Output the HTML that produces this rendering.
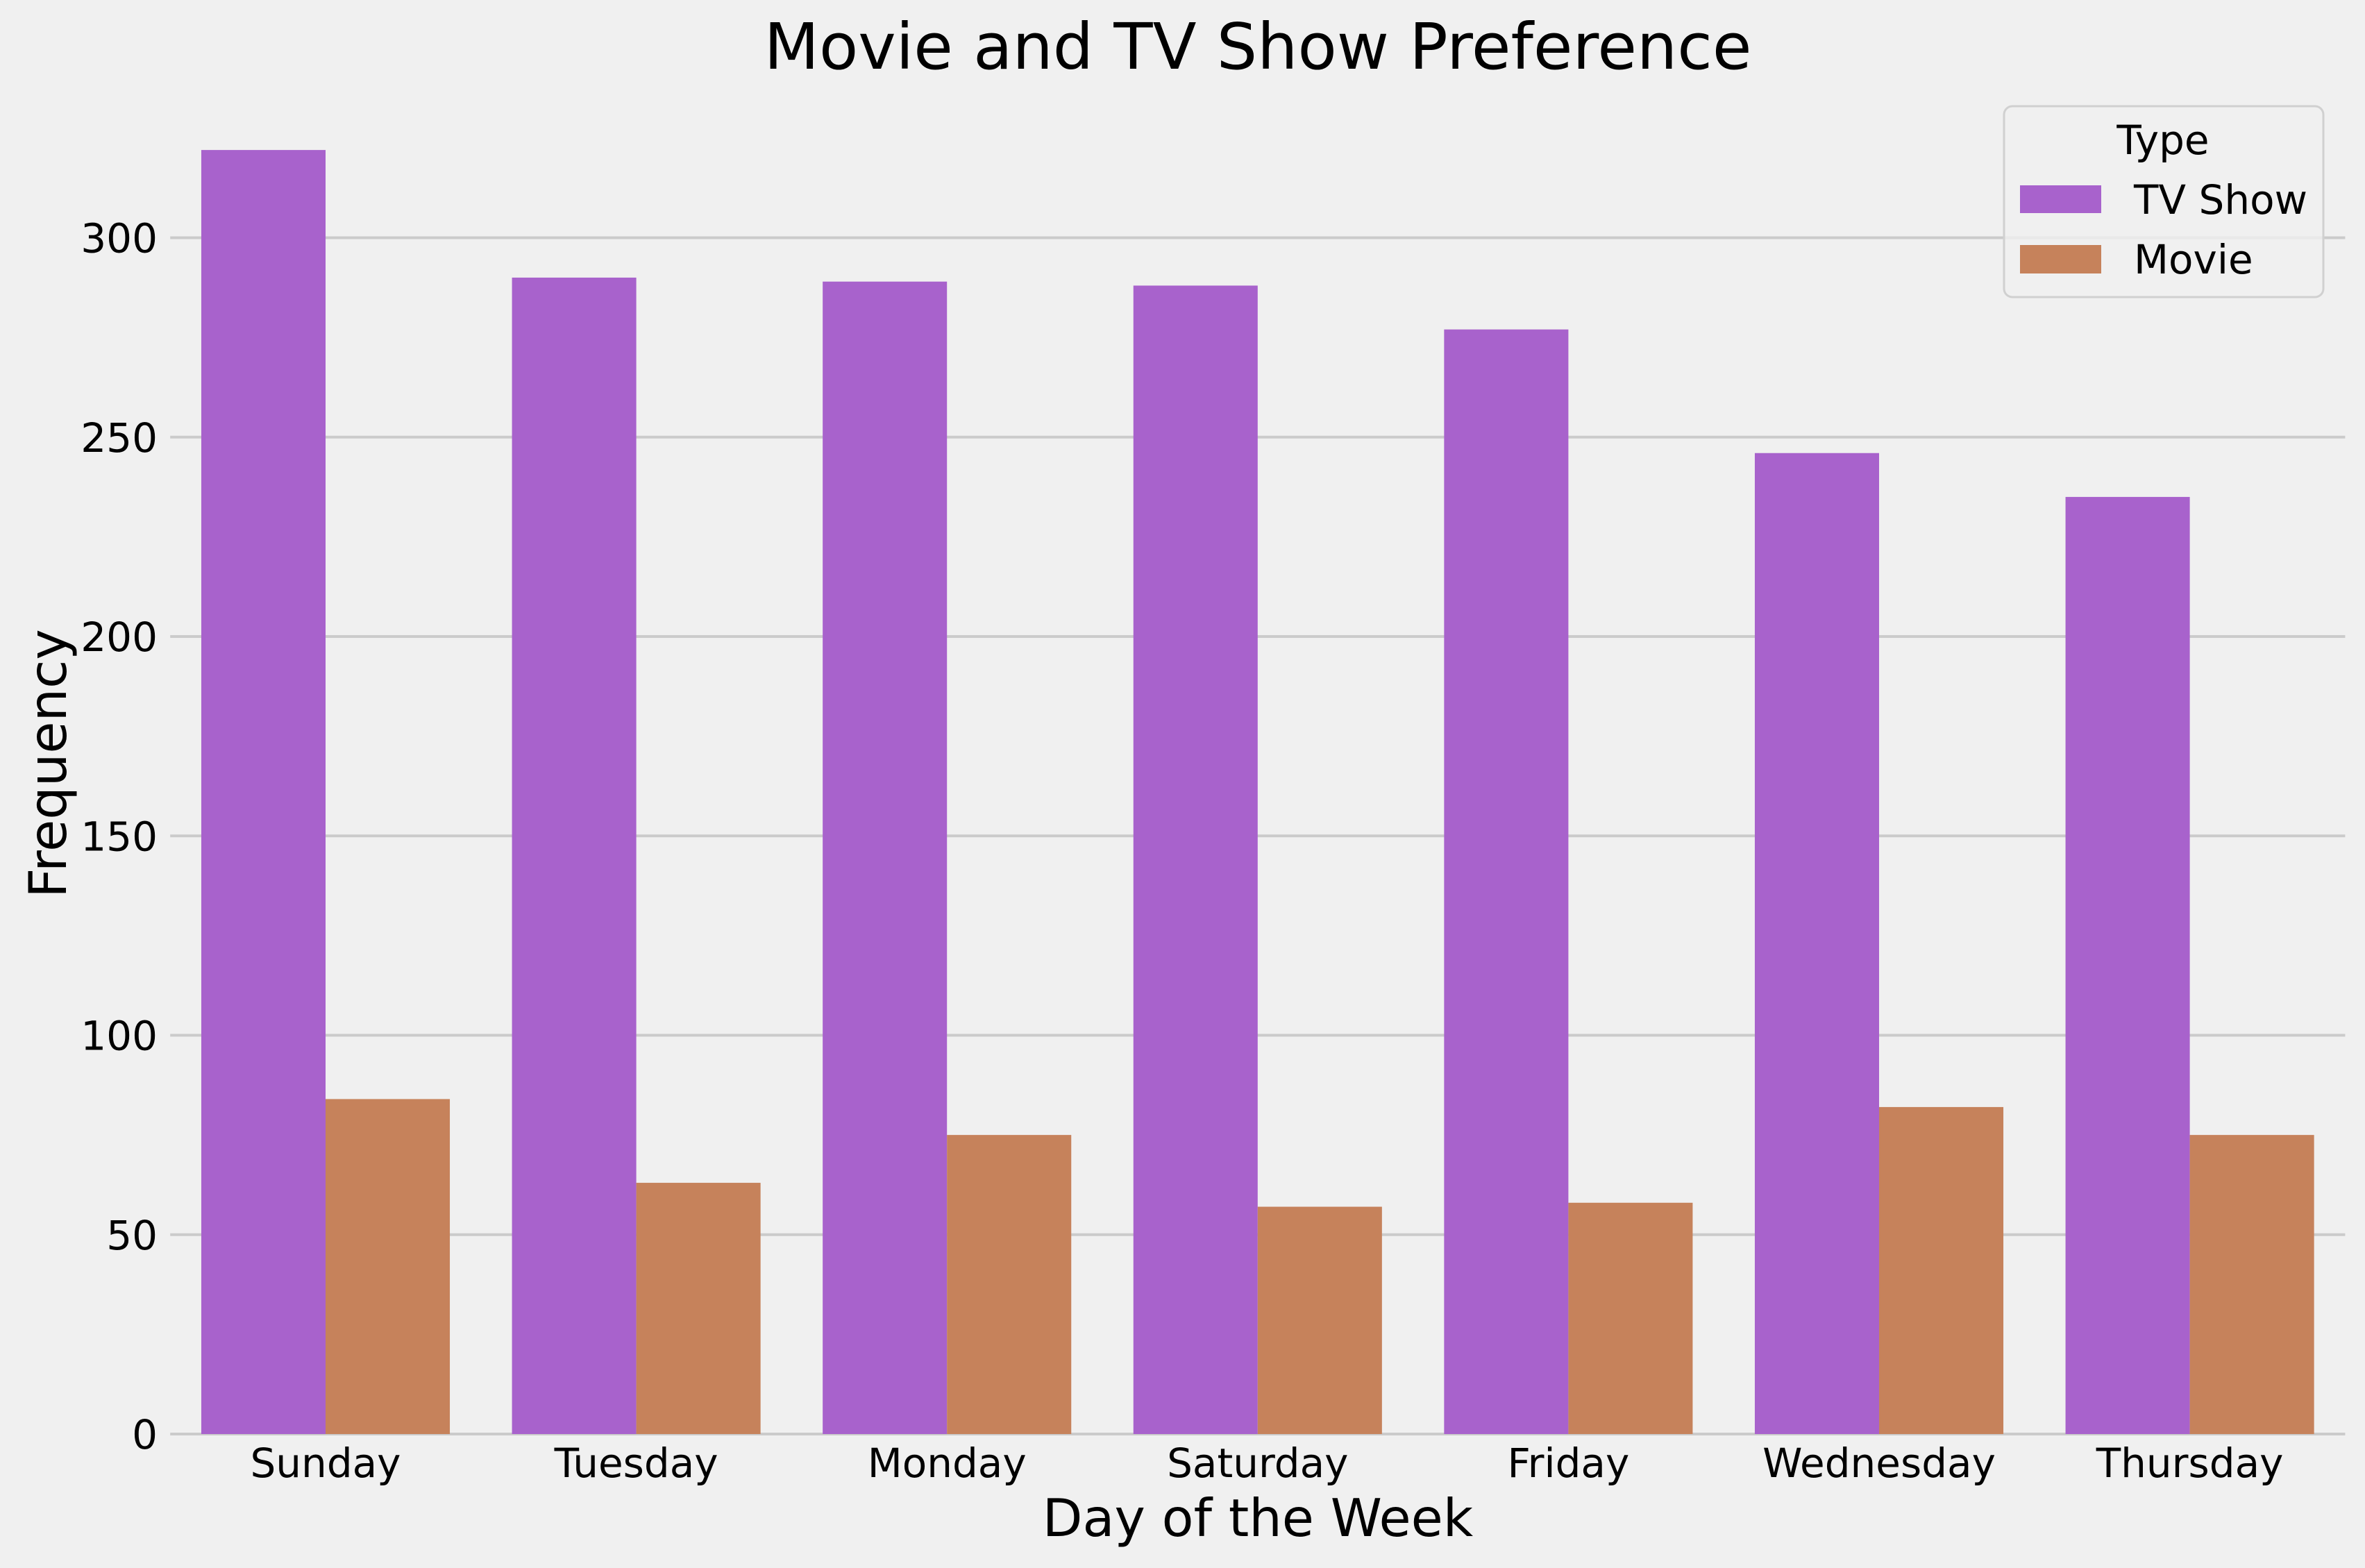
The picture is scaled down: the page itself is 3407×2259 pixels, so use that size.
<!DOCTYPE html>
<html><head><meta charset="utf-8"><style>
html,body{margin:0;padding:0;background:#f0f0f0;}
svg{display:block;font-family:"DejaVu Sans","Liberation Sans",sans-serif;}
</style></head><body>
<svg id="chart" width="3407" height="2259" viewBox="0 0 3407 2259">
<rect x="0" y="0" width="3407" height="2259" fill="#f0f0f0"/>
<g id="grid"></g>
<g id="bars"></g>
<g id="ticks"></g>
<text x="1812" y="99" font-size="92" text-anchor="middle" fill="#000">Movie and TV Show Preference</text>
<text x="1812" y="2213" font-size="75" text-anchor="middle" fill="#000">Day of the Week</text>
<text x="0" y="0" font-size="75" text-anchor="middle" fill="#000" transform="translate(95,1100) rotate(-90)">Frequency</text>
<g>
<rect x="2887" y="153" width="460" height="275" rx="12" fill="#f0f0f0" fill-opacity="0.8" stroke="#d0d0d0" stroke-width="3"/>
<text x="3116" y="222" font-size="58" text-anchor="middle">Type</text>
<rect x="2910" y="267" width="117" height="40" fill="#a862cc"/>
<text x="3074" y="308" font-size="58">TV Show</text>
<rect x="2910" y="353" width="117" height="41" fill="#c6825b"/>
<text x="3074" y="394" font-size="58">Movie</text>
</g>
</svg>
<script>
const categories = ["Sunday","Tuesday","Monday","Saturday","Friday","Wednesday","Thursday"];
const tvShowValues = [322,290,289,288,277,246,235];
const movieValues = [84,63,75,57,58,82,75];
const yTickValues = [0,50,100,150,200,250,300];

const NS = "http://www.w3.org/2000/svg";
const y0 = 2066, pxPerUnit = 5.745;
const x0 = 469, catW = 447.6, barW = 0.4 * 447.6;
function yScale(v){ return y0 - v * pxPerUnit; }
function xScale(i){ return x0 + i * catW; }
const left = xScale(-0.5), right = xScale(categories.length - 0.5);

const grid = document.getElementById('grid');
const ticks = document.getElementById('ticks');
yTickValues.forEach(v => {
  const l = document.createElementNS(NS,'line');
  l.setAttribute('x1', left); l.setAttribute('x2', right);
  l.setAttribute('y1', yScale(v)); l.setAttribute('y2', yScale(v));
  l.setAttribute('stroke', '#cbcbcb'); l.setAttribute('stroke-width', '4');
  
  
  grid.appendChild(l);
  const t = document.createElementNS(NS,'text');
  t.setAttribute('x', 227); t.setAttribute('y', yScale(v) + 21);
  t.setAttribute('font-size', '58'); t.setAttribute('text-anchor', 'end');
  t.textContent = v;
  
  
  ticks.appendChild(t);
});

const bars = document.getElementById('bars');
categories.forEach((c, i) => {
  const cx = xScale(i);
  const r1 = document.createElementNS(NS,'rect');
  r1.setAttribute('x', cx - barW); r1.setAttribute('width', barW);
  r1.setAttribute('y', yScale(tvShowValues[i])); r1.setAttribute('height', tvShowValues[i] * pxPerUnit);
  r1.setAttribute('fill', '#a862cc');
  
  
  bars.appendChild(r1);
  const r2 = document.createElementNS(NS,'rect');
  r2.setAttribute('x', cx); r2.setAttribute('width', barW);
  r2.setAttribute('y', yScale(movieValues[i])); r2.setAttribute('height', movieValues[i] * pxPerUnit);
  r2.setAttribute('fill', '#c6825b');
  
  
  bars.appendChild(r2);
  const t = document.createElementNS(NS,'text');
  t.setAttribute('x', cx); t.setAttribute('y', 2128);
  t.setAttribute('font-size', '58'); t.setAttribute('text-anchor', 'middle');
  t.textContent = c;
  
  
  ticks.appendChild(t);
});
</script>
</body></html>
